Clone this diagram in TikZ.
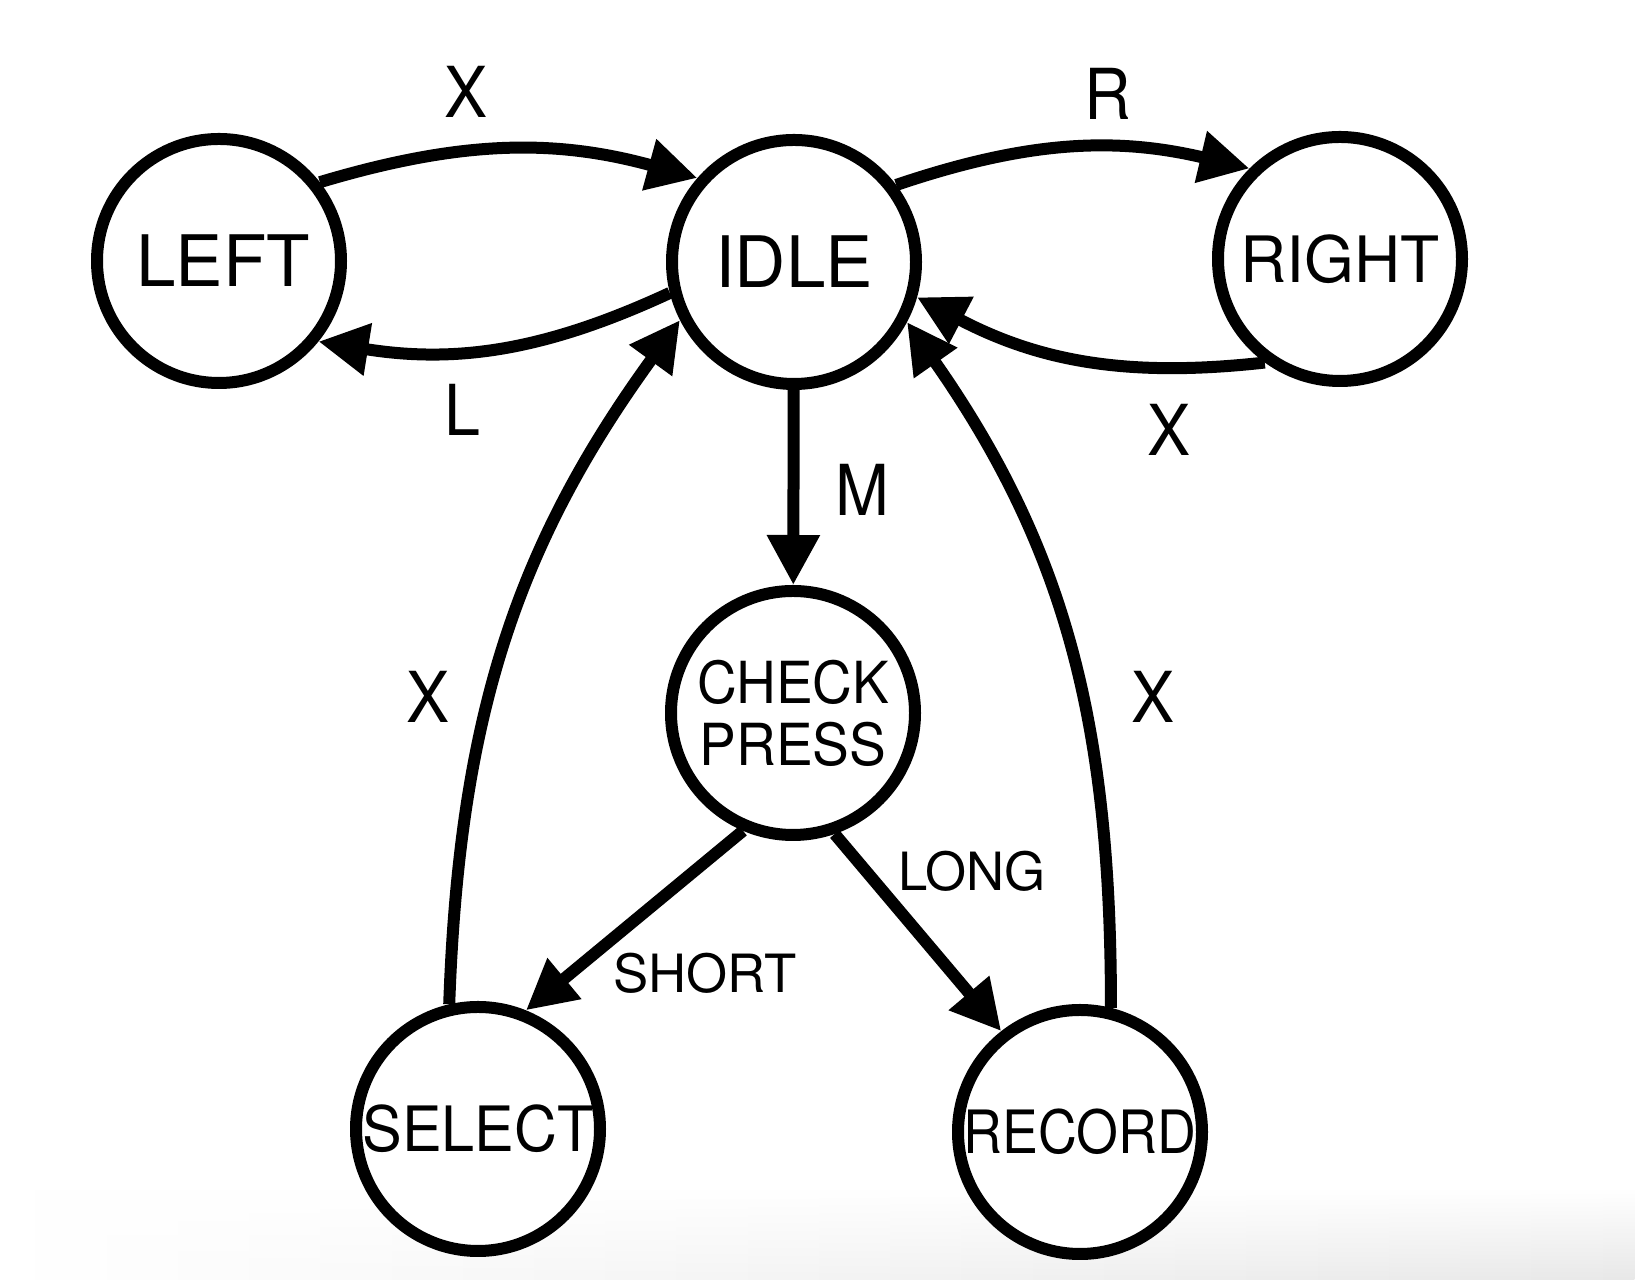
\documentclass[tikz,border=0pt]{standalone}
\usepackage{fontspec}
\setmainfont{TeX Gyre Heros}
\newfontfamily\cnda[FakeStretch=0.95]{TeX Gyre Heros}
\newfontfamily\cndb[FakeStretch=0.90]{TeX Gyre Heros}
\newfontfamily\cndc[FakeStretch=0.92]{TeX Gyre Heros}
\usetikzlibrary{arrows.meta,shadows,fadings}
\tikzset{
  state/.style={circle, draw=black, line width=0.12cm, fill=white, minimum size=2.44cm, inner sep=0pt,
    drop shadow={shadow xshift=0.025cm, shadow yshift=-0.035cm, opacity=0.3, fill=black}},
  trans/.style={line width=0.12cm, -{Triangle[length=0.5cm, width=0.5cm]}},
  biglab/.style={inner sep=0pt, font=\cndc\fontsize{20pt}{22pt}\selectfont},
  smalllab/.style={inner sep=0pt, font=\fontsize{15pt}{17pt}\selectfont}
}
\begin{document}
\begin{tikzpicture}
\useasboundingbox (0,0) rectangle (16.36,-12.80);
\fill[white] (0,0) rectangle (16.36,-12.80);
\shade[left color=white, right color=black!9, path fading=north] (0,-11.90) rectangle (16.36,-12.80);

% states
\node[state, font=\fontsize{20.2pt}{22pt}\selectfont] (left) at (2.19,-2.61) {\hspace{0.08cm}LEFT};
\node[state, font=\fontsize{20.2pt}{22pt}\selectfont] (idle) at (7.94,-2.62) {IDLE};
\node[state, font=\fontsize{18.2pt}{20pt}\selectfont] (right) at (13.40,-2.59) {RIGHT};
\node[state, align=center, font=\cnda\fontsize{16.5pt}{17.6pt}\selectfont] (check) at (7.93,-7.13) {CHECK\\PRESS};
\node[state, font=\cnda\fontsize{17.8pt}{20pt}\selectfont] (select) at (4.78,-11.29) {SELECT};
\node[state, font=\cndb\fontsize{17pt}{20pt}\selectfont] (record) at (10.80,-11.32) {RECORD};

% transitions
\draw[trans] (left.38) to[bend left=16] (idle.139);
\draw[trans] (idle.194) to[bend left=17] (left.-39);
\draw[trans] (idle.37) to[bend left=16] (right.135);
\draw[trans] (right.234) to[bend left=17] (idle.-16);
\draw[trans] (idle) -- (check);
\draw[trans] (check.-113) -- (select.68);
\draw[trans] (check.-71) -- (record.128);
\draw[trans] (select.103) to[out=88, in=234] (idle.207);
\draw[trans] (record.76) to[out=90, in=-55] (idle.-28);

% labels
\node[biglab] (lx1) at (4.66,-0.92) {X};
\node[biglab] (ll) at (4.62,-4.10) {L};
\node[biglab] (lr) at (11.08,-0.94) {R};
\node[biglab] (lx2) at (11.69,-4.30) {X};
\node[biglab] (lm) at (8.62,-4.90) {M};
\node[smalllab] (lshort) at (7.05,-9.73) {SHORT};
\node[smalllab] (llong) at (9.72,-8.71) {LONG};
\node[biglab] (lx3) at (4.28,-6.97) {X};
\node[biglab] (lx4) at (11.53,-6.97) {X};
\end{tikzpicture}
\end{document}
